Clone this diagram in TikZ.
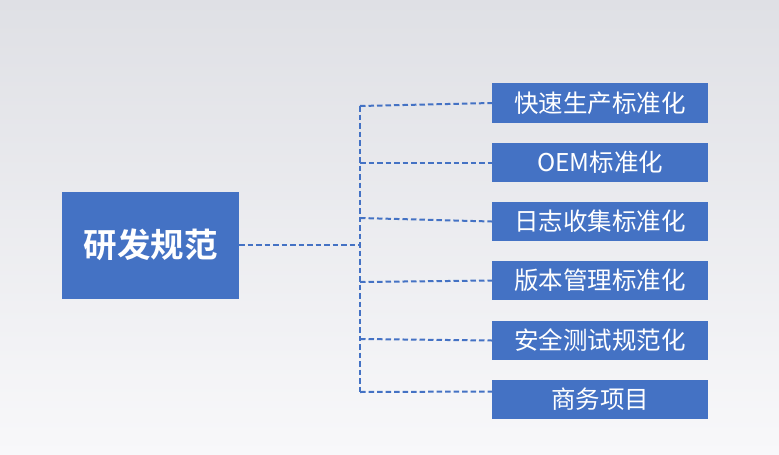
\documentclass[tikz,border=0pt]{standalone}
\usepackage{fontspec}
\newfontfamily\cjk{Noto Sans CJK SC}
\newfontfamily\cjkbold{Noto Sans CJK SC Bold}
\definecolor{boxblue}{HTML}{4472C4}
\definecolor{bgtop}{HTML}{DFE0E5}
\definecolor{bgbot}{HTML}{F8F8FA}
\begin{document}
\begin{tikzpicture}[x=1pt,y=-1pt,
  mainbox/.style={fill=boxblue,text=white,minimum width=177pt,minimum height=107pt,inner sep=0pt,font=\cjkbold\fontsize{33.5}{36}\selectfont},
  itembox/.style={fill=boxblue,text=white,minimum width=216pt,minimum height=39.5pt,inner sep=0pt,font=\cjk\fontsize{24.5}{28}\selectfont},
  link/.style={draw=boxblue,line width=2pt,dash pattern=on 5.5pt off 3pt}]
\useasboundingbox (0,0) rectangle (779,455);
\shade[top color=bgtop,bottom color=bgbot] (0,0) rectangle (779,455);
\node[mainbox] (main) at (150.5,245) {研发规范};
\node[itembox] (b1) at (600,103) {快速生产标准化};
\node[itembox] (b2) at (600,162.5) {OEM标准化};
\node[itembox] (b3) at (600,221.5) {日志收集标准化};
\node[itembox] (b4) at (600,280.5) {版本管理标准化};
\node[itembox] (b5) at (600,340.5) {安全测试规范化};
\node[itembox] (b6) at (600,399.5) {商务项目};
\coordinate (j) at (360,245);
\coordinate (t1) at (360,106);
\coordinate (t2) at (360,162.5);
\coordinate (t3) at (360,218);
\coordinate (t4) at (360,282);
\coordinate (t5) at (360,339);
\coordinate (t6) at (360,392);
\draw[link] (main.east) -- (j);
\draw[link] (t1) -- (t6);
\draw[link] (t1) -- (b1.west);
\draw[link] (t2) -- (b2.west);
\draw[link] (t3) -- (b3.west);
\draw[link] (t4) -- (b4.west);
\draw[link] (t5) -- (b5.west);
\draw[link] (t6) -- ([yshift=8pt]b6.west);
\end{tikzpicture}
\end{document}
